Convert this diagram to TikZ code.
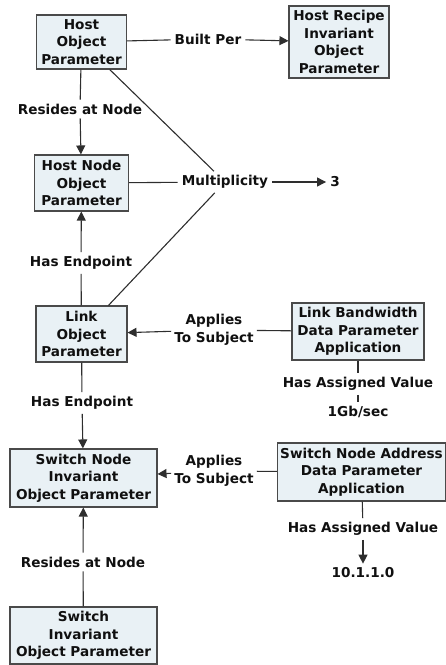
\documentclass[tikz,border=0pt]{standalone}
\usepackage{fontspec}
\setmainfont{DejaVu Sans}
\usetikzlibrary{arrows.meta}
\definecolor{boxfill}{HTML}{E9F1F5}
\definecolor{boxline}{HTML}{4A4A4A}
\definecolor{conn}{HTML}{2E2E2E}
\definecolor{txt}{HTML}{101010}
\begin{document}
\begin{tikzpicture}[x=1pt,y=-1pt,
  every node/.style={font=\bfseries\fontsize{13.6}{17.5}\selectfont, text=txt, align=center},
  pbox/.style={draw=boxline, line width=1.1pt, fill=boxfill, inner sep=0pt},
  lbl/.style={fill=white, inner sep=4pt},
  val/.style={inner sep=4pt},
  conline/.style={draw=conn, line width=1.1pt},
  arr/.style={conline, -{Triangle[length=9pt,width=9pt]}}
]
\useasboundingbox (0,0) rectangle (446,665);
% boxes
\node[pbox, minimum width=90pt, minimum height=54pt] (host) at (81.5,42) {Host\\Object\\Parameter};
\node[pbox, minimum width=100pt, minimum height=72pt] (recipe) at (339,42) {Host Recipe\\Invariant\\Object\\Parameter};
\node[pbox, minimum width=94pt, minimum height=56pt] (hnode) at (81.5,183) {Host Node\\Object\\Parameter};
\node[pbox, minimum width=91pt, minimum height=56pt] (link) at (81.5,334) {Link\\Object\\Parameter};
\node[pbox, minimum width=132pt, minimum height=57pt] (bw) at (358,331.5) {Link Bandwidth\\Data Parameter\\Application};
\node[pbox, minimum width=147pt, minimum height=58pt] (snode) at (83.5,478) {Switch Node\\Invariant\\Object Parameter};
\node[pbox, minimum width=168pt, minimum height=58pt] (addr) at (361.5,472) {Switch Node Address\\Data Parameter\\Application};
\node[pbox, minimum width=147pt, minimum height=57pt] (sw) at (83.5,635.5) {Switch\\Invariant\\Object Parameter};
% labels
\node[lbl] (builtper) at (208,39) {Built Per};
\node[lbl] (res1) at (80,109) {Resides at Node};
\node[lbl] (mult) at (225,182) {Multiplicity};
\node[val] (three) at (335,182) {3};
\node[lbl] (end1) at (81,263) {Has Endpoint};
\node[lbl, inner sep=3pt] (app1) at (214,330) {Applies\\To Subject};
\node[lbl] (hav1) at (358,384) {Has Assigned Value};
\node[val] (gb) at (358,412) {1Gb/sec};
\node[lbl] (end2) at (82,403) {Has Endpoint};
\node[lbl, inner sep=3pt] (app2) at (214,471) {Applies\\To Subject};
\node[lbl] (hav2) at (363,529) {Has Assigned Value};
\node[val] (ip) at (363,573) {10.1.1.0};
\node[lbl] (res2) at (83,562) {Resides at Node};
% connectors
\draw[conline] (host) -- (builtper);
\draw[arr] (builtper) -- (recipe);
\draw[conline] (host) -- (res1);
\draw[arr] (res1) -- (hnode);
\draw[conline] (hnode) -- (mult);
\draw[arr] (mult) -- (three);
\draw[conline] (host) -- (mult);
\draw[conline] (link) -- (mult);
\draw[conline] (link) -- (end1);
\draw[arr] (end1) -- (hnode);
\draw[conline] (bw) -- (app1);
\draw[arr] (app1) -- (link);
\draw[conline] (bw) -- (hav1);
\draw[conline] (hav1) -- (gb);
\draw[conline] (link) -- (end2);
\draw[arr] (end2) -- (snode);
\draw[conline] (addr) -- (app2);
\draw[arr] (app2) -- (snode);
\draw[conline] (addr) -- (hav2);
\draw[arr] (hav2) -- (ip);
\draw[conline] (sw) -- (res2);
\draw[arr] (res2) -- (snode);
\end{tikzpicture}
\end{document}
